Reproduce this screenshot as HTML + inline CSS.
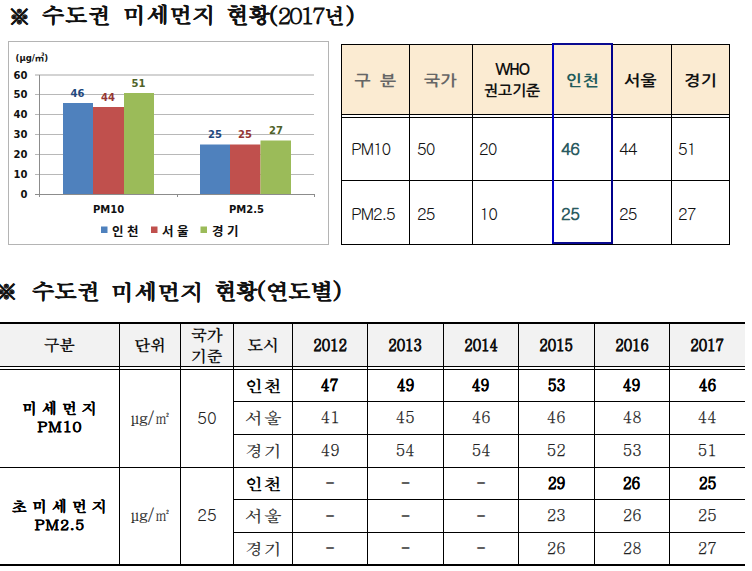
<!DOCTYPE html>
<html lang="ko">
<head>
<meta charset="utf-8">
<title>수도권 미세먼지 현황</title>
<style>
html,body{margin:0;padding:0;background:#fff;}
body{width:752px;height:571px;overflow:hidden;position:relative;}
.abs{position:absolute;}
.title{position:absolute;width:752px;height:32px;font-family:"Batang","Noto Serif CJK KR","Noto Serif CJK SC","Liberation Serif",serif;font-weight:bold;color:#111;line-height:1;}
.w{position:absolute;white-space:nowrap;transform-origin:0 0;}
.hw{font-size:21.5px;transform:scaleX(1.06);-webkit-text-stroke:0.25px #111;}
.dg{font-size:23px;}
.ast{font-size:25px;-webkit-text-stroke:0.15px #111;}
.hl{position:absolute;height:1px;background:#000;}
.vl{position:absolute;width:1px;background:#000;}
.cell{position:absolute;display:flex;align-items:center;justify-content:center;white-space:nowrap;line-height:1;}
.g{font-family:"Gulim","NanumGothic","Liberation Sans","Noto Sans CJK KR",sans-serif;}
.hx{display:inline-block;transform:scaleX(1.14);letter-spacing:0.5px;}
.gh{font-family:"NanumGothic","Noto Sans CJK KR","Liberation Sans",sans-serif;font-weight:bold;}
.s{font-family:"Batang","Noto Serif CJK KR","Noto Serif CJK SC","Liberation Serif",serif;}
.hd{font-size:16px;font-weight:bold;color:#111;}
.yr{display:inline-block;transform:scaleX(0.88);-webkit-text-stroke:0.3px #111;}
.city{font-size:16px;letter-spacing:1px;padding-left:1px;box-sizing:border-box;}
.cx{display:inline-block;transform:scaleX(1.1);}
.city.n{-webkit-text-stroke:0.25px #222;}
.vx{display:inline-block;transform:scaleX(0.93);}
.val{font-size:17px;}
.val.n{padding-bottom:3px;box-sizing:border-box;-webkit-text-stroke:0.25px #222;}
.val.b{font-size:16px;padding-bottom:2px;box-sizing:border-box;-webkit-text-stroke:0.3px #000;}
.b{font-weight:bold;color:#000;}
.n{color:#222;}
.dash{color:#555;text-shadow:0 0.6px 0 #555;padding-bottom:2px;box-sizing:border-box;}
.grp{font-weight:bold;color:#000;line-height:18px;padding-bottom:3px;box-sizing:border-box;-webkit-text-stroke:0.3px #000;}
.k1{font-size:15px;letter-spacing:5px;padding-left:5px;}
.k2{font-size:15px;letter-spacing:1px;padding-left:1px;}
.unit{font-size:15.5px;color:#222;padding-bottom:2px;box-sizing:border-box;-webkit-text-stroke:0.2px #222;}
.std{font-size:17px;color:#222;padding-bottom:3px;box-sizing:border-box;}
</style>
</head>
<body>

<!-- Title 1 -->
<div class="title" style="left:0;top:0;">
<span class="w ast" style="left:7px;top:3px;">※</span>
<span class="w hw" style="left:42px;top:4px;letter-spacing:0.2px;">수도권</span>
<span class="w hw" style="left:122.5px;top:4px;letter-spacing:0.4px;">미세먼지</span>
<span class="w hw" style="left:225.5px;top:4px;letter-spacing:-1px;">현황</span>
<span class="w hw" style="left:269px;top:4.5px;">(</span>
<span class="w dg" style="left:277.5px;top:2.5px;letter-spacing:-2.2px;">2017</span>
<span class="w hw" style="left:325px;top:4px;transform:scaleX(0.9);">년</span>
<span class="w hw" style="left:346px;top:4.5px;">)</span>
</div>

<!-- Chart -->
<svg class="abs" style="left:0;top:0" width="340" height="250" viewBox="0 0 340 250">
  <rect x="8.5" y="41.5" width="320" height="203" fill="#fff" stroke="#b4b4b4" stroke-width="1"/>
  <g stroke="#b8b8b8" stroke-width="1">
    <line x1="35" y1="75" x2="314" y2="75" stroke-width="1.4" stroke="#c4c4c4"/>
    <line x1="35" y1="94.5" x2="314" y2="94.5"/>
    <line x1="35" y1="114.5" x2="314" y2="114.5"/>
    <line x1="35" y1="134.5" x2="314" y2="134.5"/>
    <line x1="35" y1="154.5" x2="314" y2="154.5"/>
    <line x1="35" y1="174.5" x2="314" y2="174.5"/>
  </g>
  <rect x="63" y="103" width="30" height="91" fill="#4f81bd"/>
  <rect x="93" y="107" width="31" height="87" fill="#c0504d"/>
  <rect x="124" y="93" width="30" height="101" fill="#9bbb59"/>
  <rect x="200" y="144.5" width="30" height="49.5" fill="#4f81bd"/>
  <rect x="230" y="144.5" width="30.5" height="49.5" fill="#c0504d"/>
  <rect x="260.5" y="140.5" width="30.5" height="53.5" fill="#9bbb59"/>
  <g stroke="#8c8c8c" stroke-width="1">
    <line x1="35" y1="194.5" x2="314" y2="194.5"/>
    <line x1="39.5" y1="75" x2="39.5" y2="197"/>
    <line x1="177.5" y1="194" x2="177.5" y2="197"/>
    <line x1="314.5" y1="194" x2="314.5" y2="197"/>
  </g>
  <g font-family="DejaVu Sans, Verdana, sans-serif" font-weight="bold" font-size="10" fill="#111" text-anchor="end">
    <text x="27.5" y="78.5">60</text>
    <text x="27.5" y="98">50</text>
    <text x="27.5" y="118">40</text>
    <text x="27.5" y="138">30</text>
    <text x="27.5" y="158">20</text>
    <text x="27.5" y="178">10</text>
    <text x="27.5" y="197.5">0</text>
  </g>
  <text id="unitlbl" x="15.5" y="60.5" font-family="DejaVu Sans, sans-serif" font-weight="bold" font-size="8.5" fill="#111">(μg/<tspan font-family="Noto Sans CJK KR, NanumGothic, sans-serif" font-size="9.5">㎥</tspan>)</text>
  <g font-family="DejaVu Sans, Verdana, sans-serif" font-weight="bold" font-size="10" text-anchor="middle">
    <text x="77.5" y="96.5" fill="#1f497d">46</text>
    <text x="108" y="100.5" fill="#943634">44</text>
    <text x="138.5" y="86.5" fill="#4f6228">51</text>
    <text x="215" y="138" fill="#1f497d">25</text>
    <text x="245" y="138" fill="#943634">25</text>
    <text x="276" y="134" fill="#4f6228">27</text>
  </g>
  <g font-family="DejaVu Sans, Verdana, sans-serif" font-weight="bold" font-size="10" fill="#111" text-anchor="middle">
    <text x="108.5" y="213">PM10</text>
    <text x="246.5" y="213">PM2.5</text>
  </g>
  <rect x="101" y="226.5" width="6.5" height="6.5" fill="#4f81bd"/>
  <rect x="151" y="226.5" width="6.5" height="6.5" fill="#c0504d"/>
  <rect x="200.5" y="226.5" width="6.5" height="6.5" fill="#9bbb59"/>
  <g font-family="Noto Sans CJK KR, NanumGothic, sans-serif" font-weight="bold" font-size="12.5" fill="#111">
    <text x="112" y="235.5" class="lg">인 천</text>
    <text x="162" y="235.5" class="lg">서 울</text>
    <text x="212" y="235.5" class="lg">경 기</text>
  </g>
</svg>

<!-- Top-right table -->
<div class="abs" style="left:341px;top:44px;width:389px;height:70px;background:#fbebd2;"></div>
<div class="hl" style="left:341px;top:44px;width:389px;"></div>
<div class="hl" style="left:341px;top:114px;width:389px;"></div>
<div class="hl" style="left:341px;top:117px;width:389px;"></div>
<div class="hl" style="left:341px;top:180px;width:389px;"></div>
<div class="hl" style="left:341px;top:244px;width:389px;"></div>
<div class="vl" style="left:341px;top:44px;height:201px;"></div>
<div class="vl" style="left:409px;top:44px;height:201px;"></div>
<div class="vl" style="left:472px;top:44px;height:201px;"></div>
<div class="vl" style="left:671px;top:44px;height:201px;"></div>
<div class="vl" style="left:729px;top:44px;height:201px;"></div>
<div class="abs" style="left:552px;top:43px;width:57px;height:197px;border:2px solid;border-color:#0a0a90 #00008c #0a0a90 #0000c8;"></div>

<div class="cell gh" style="left:341px;top:46px;width:68px;height:69px;font-size:15px;color:#666;"><span class="hx" style="letter-spacing:0px">구&nbsp;&nbsp;분</span></div>
<div class="cell gh" style="left:409px;top:46px;width:63px;height:69px;font-size:15px;color:#666;"><span class="hx">국가</span></div>
<div class="cell gh" style="left:472px;top:45px;width:80px;height:69px;font-size:15px;font-weight:bold;color:#111;flex-direction:column;line-height:21px;"><span style="letter-spacing:-1.5px">WHO</span><span>권고기준</span></div>
<div class="cell gh" style="left:554px;top:46px;width:57px;height:69px;font-size:15px;color:#215b5b;"><span class="hx">인천</span></div>
<div class="cell gh" style="left:612px;top:46px;width:58px;height:69px;font-size:15px;color:#111;"><span class="hx">서울</span></div>
<div class="cell gh" style="left:672px;top:46px;width:57px;height:69px;font-size:15px;color:#111;"><span class="hx">경기</span></div>

<div class="cell g" style="left:351px;top:117px;height:62px;font-size:17px;letter-spacing:-1.3px;color:#111;">PM10</div>
<div class="cell g" style="left:351px;top:182px;height:63px;font-size:17px;letter-spacing:-1.3px;color:#111;">PM2.5</div>
<div class="cell g" style="left:417px;top:117px;height:62px;font-size:17px;letter-spacing:-1px;color:#111;">50</div>
<div class="cell g" style="left:417px;top:182px;height:63px;font-size:17px;letter-spacing:-1px;color:#111;">25</div>
<div class="cell g" style="left:479px;top:117px;height:62px;font-size:17px;letter-spacing:-1px;color:#111;">20</div>
<div class="cell g" style="left:479.5px;top:182px;height:63px;font-size:17px;letter-spacing:-1px;color:#111;">10</div>
<div class="cell g" style="left:561px;top:117px;height:62px;font-size:17px;letter-spacing:-0.5px;color:#2a5a60;font-weight:bold;">46</div>
<div class="cell g" style="left:561px;top:182px;height:63px;font-size:17px;letter-spacing:-0.5px;color:#2a5a60;font-weight:bold;">25</div>
<div class="cell g" style="left:619px;top:117px;height:62px;font-size:17px;letter-spacing:-1px;color:#111;">44</div>
<div class="cell g" style="left:619px;top:182px;height:63px;font-size:17px;letter-spacing:-1px;color:#111;">25</div>
<div class="cell g" style="left:678px;top:117px;height:62px;font-size:17px;letter-spacing:-1px;color:#111;">51</div>
<div class="cell g" style="left:678px;top:182px;height:63px;font-size:17px;letter-spacing:-1px;color:#111;">27</div>

<!-- Title 2 -->
<div class="title" style="left:0;top:276px;">
<span class="w ast" style="left:-6px;top:1.5px;">※</span>
<span class="w hw" style="left:31.5px;top:4px;letter-spacing:-0.2px;">수도권</span>
<span class="w hw" style="left:111px;top:4.5px;letter-spacing:0.4px;">미세먼지</span>
<span class="w hw" style="left:214px;top:4px;letter-spacing:-1.5px;">현황</span>
<span class="w hw" style="left:257px;top:4px;">(</span>
<span class="w hw" style="left:265.5px;top:4px;letter-spacing:-0.5px;">연도별</span>
<span class="w hw" style="left:332.5px;top:4px;">)</span>
</div>

<!-- Bottom table -->
<div class="abs" style="left:0;top:324px;width:745px;height:42px;background:#f2f2f2;"></div>
<div class="abs" style="left:0;top:322px;width:745px;height:2px;background:#000;"></div>
<div class="hl" style="left:0;top:366px;width:745px;"></div>
<div class="hl" style="left:0;top:369px;width:745px;"></div>
<div class="hl" style="left:233px;top:401px;width:512px;"></div>
<div class="hl" style="left:233px;top:434px;width:512px;"></div>
<div class="hl" style="left:233px;top:499px;width:512px;"></div>
<div class="hl" style="left:233px;top:532px;width:512px;"></div>
<div class="hl" style="left:0;top:467px;width:745px;"></div>
<div class="abs" style="left:0;top:564px;width:745px;height:2px;background:#000;"></div>
<div class="vl" style="left:119px;top:324px;height:240px;"></div>
<div class="vl" style="left:180px;top:324px;height:240px;"></div>
<div class="vl" style="left:233px;top:324px;height:240px;"></div>
<div class="vl" style="left:292px;top:324px;height:240px;"></div>
<div class="vl" style="left:367px;top:324px;height:240px;"></div>
<div class="vl" style="left:443px;top:324px;height:240px;"></div>
<div class="vl" style="left:518px;top:324px;height:240px;"></div>
<div class="vl" style="left:594px;top:324px;height:240px;"></div>
<div class="vl" style="left:669px;top:324px;height:240px;"></div>
<div class="cell s hd" style="left:0px;top:324px;width:119px;height:42px;">구분</div>
<div class="cell s hd" style="left:120px;top:324px;width:60px;height:42px;">단위</div>
<div class="cell s hd" style="left:181px;top:324px;width:52px;height:42px;flex-direction:column;line-height:21px;">국가<br>기준</div>
<div class="cell s hd" style="left:234px;top:324px;width:58px;height:42px;">도시</div>
<div class="cell s hd" style="left:293px;top:324px;width:74px;height:42px;"><span class="yr">2012</span></div>
<div class="cell s hd" style="left:368px;top:324px;width:75px;height:42px;"><span class="yr">2013</span></div>
<div class="cell s hd" style="left:444px;top:324px;width:74px;height:42px;"><span class="yr">2014</span></div>
<div class="cell s hd" style="left:519px;top:324px;width:75px;height:42px;"><span class="yr">2015</span></div>
<div class="cell s hd" style="left:595px;top:324px;width:74px;height:42px;"><span class="yr">2016</span></div>
<div class="cell s hd" style="left:670px;top:324px;width:75px;height:42px;"><span class="yr">2017</span></div>
<div class="cell s city b" style="left:234px;top:370px;width:58px;height:31px;"><span class="cx">인천</span></div>
<div class="cell s val b" style="left:293px;top:370px;width:74px;height:31px;"><span class="vx">47</span></div>
<div class="cell s val b" style="left:368px;top:370px;width:75px;height:31px;"><span class="vx">49</span></div>
<div class="cell s val b" style="left:444px;top:370px;width:74px;height:31px;"><span class="vx">49</span></div>
<div class="cell s val b" style="left:519px;top:370px;width:75px;height:31px;"><span class="vx">53</span></div>
<div class="cell s val b" style="left:595px;top:370px;width:74px;height:31px;"><span class="vx">49</span></div>
<div class="cell s val b" style="left:670px;top:370px;width:75px;height:31px;"><span class="vx">46</span></div>
<div class="cell s city n" style="left:234px;top:402px;width:58px;height:32px;"><span class="cx">서울</span></div>
<div class="cell s val n" style="left:293px;top:402px;width:74px;height:32px;"><span class="vx">41</span></div>
<div class="cell s val n" style="left:368px;top:402px;width:75px;height:32px;"><span class="vx">45</span></div>
<div class="cell s val n" style="left:444px;top:402px;width:74px;height:32px;"><span class="vx">46</span></div>
<div class="cell s val n" style="left:519px;top:402px;width:75px;height:32px;"><span class="vx">46</span></div>
<div class="cell s val n" style="left:595px;top:402px;width:74px;height:32px;"><span class="vx">48</span></div>
<div class="cell s val n" style="left:670px;top:402px;width:75px;height:32px;"><span class="vx">44</span></div>
<div class="cell s city n" style="left:234px;top:435px;width:58px;height:32px;"><span class="cx">경기</span></div>
<div class="cell s val n" style="left:293px;top:435px;width:74px;height:32px;"><span class="vx">49</span></div>
<div class="cell s val n" style="left:368px;top:435px;width:75px;height:32px;"><span class="vx">54</span></div>
<div class="cell s val n" style="left:444px;top:435px;width:74px;height:32px;"><span class="vx">54</span></div>
<div class="cell s val n" style="left:519px;top:435px;width:75px;height:32px;"><span class="vx">52</span></div>
<div class="cell s val n" style="left:595px;top:435px;width:74px;height:32px;"><span class="vx">53</span></div>
<div class="cell s val n" style="left:670px;top:435px;width:75px;height:32px;"><span class="vx">51</span></div>
<div class="cell s city b" style="left:234px;top:468px;width:58px;height:31px;"><span class="cx">인천</span></div>
<div class="cell s val dash" style="left:293px;top:468px;width:74px;height:31px;">-</div>
<div class="cell s val dash" style="left:368px;top:468px;width:75px;height:31px;">-</div>
<div class="cell s val dash" style="left:444px;top:468px;width:74px;height:31px;">-</div>
<div class="cell s val b" style="left:519px;top:468px;width:75px;height:31px;"><span class="vx">29</span></div>
<div class="cell s val b" style="left:595px;top:468px;width:74px;height:31px;"><span class="vx">26</span></div>
<div class="cell s val b" style="left:670px;top:468px;width:75px;height:31px;"><span class="vx">25</span></div>
<div class="cell s city n" style="left:234px;top:500px;width:58px;height:32px;"><span class="cx">서울</span></div>
<div class="cell s val dash" style="left:293px;top:500px;width:74px;height:32px;">-</div>
<div class="cell s val dash" style="left:368px;top:500px;width:75px;height:32px;">-</div>
<div class="cell s val dash" style="left:444px;top:500px;width:74px;height:32px;">-</div>
<div class="cell s val n" style="left:519px;top:500px;width:75px;height:32px;"><span class="vx">23</span></div>
<div class="cell s val n" style="left:595px;top:500px;width:74px;height:32px;"><span class="vx">26</span></div>
<div class="cell s val n" style="left:670px;top:500px;width:75px;height:32px;"><span class="vx">25</span></div>
<div class="cell s city n" style="left:234px;top:533px;width:58px;height:31px;"><span class="cx">경기</span></div>
<div class="cell s val dash" style="left:293px;top:533px;width:74px;height:31px;">-</div>
<div class="cell s val dash" style="left:368px;top:533px;width:75px;height:31px;">-</div>
<div class="cell s val dash" style="left:444px;top:533px;width:74px;height:31px;">-</div>
<div class="cell s val n" style="left:519px;top:533px;width:75px;height:31px;"><span class="vx">26</span></div>
<div class="cell s val n" style="left:595px;top:533px;width:74px;height:31px;"><span class="vx">28</span></div>
<div class="cell s val n" style="left:670px;top:533px;width:75px;height:31px;"><span class="vx">27</span></div>
<div class="cell s grp" style="left:0;top:370px;width:119px;height:97px;flex-direction:column;"><span class="k1">미세먼지</span><span class="k2">PM10</span></div>
<div class="cell s grp" style="left:0;top:468px;width:119px;height:96px;flex-direction:column;"><span class="k1">초미세먼지</span><span class="k2">PM2.5</span></div>
<div class="cell s unit" style="left:120px;top:370px;width:60px;height:97px;">μg/㎡</div>
<div class="cell g std" style="left:181px;top:370px;width:52px;height:97px;">50</div>
<div class="cell s unit" style="left:120px;top:468px;width:60px;height:96px;">μg/㎡</div>
<div class="cell g std" style="left:181px;top:468px;width:52px;height:96px;">25</div>

</body>
</html>
